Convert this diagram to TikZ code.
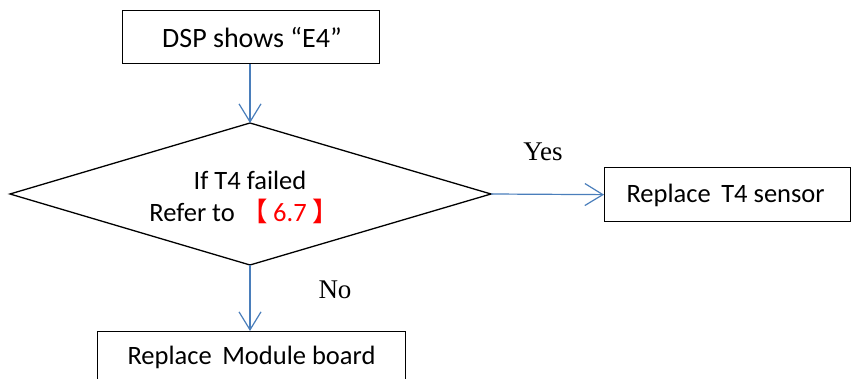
\documentclass[tikz,border=0pt]{standalone}
\usepackage{fontspec}
\setmainfont{Carlito}
\newfontfamily\serifface{Liberation Serif}
\newfontfamily\cjk{Noto Sans CJK SC}
\usetikzlibrary{arrows.meta}
\definecolor{arrowblue}{RGB}{74,126,187}
\tikzset{
  x=1pt, y=-1pt,
  boxstyle/.style={draw=black, line width=1.3pt, fill=white, inner sep=0pt},
  flow/.style={draw=arrowblue, line width=1.2pt, -{Straight Barb[length=18pt,width=22pt,line width=1.2pt]}},
  txt/.style={font=\fontsize{26.5}{32}\selectfont},
  bigtxt/.style={font=\fontsize{28}{32}\selectfont},
  lbl/.style={font=\serifface\fontsize{27}{30}\selectfont},
}
\begin{document}
\begin{tikzpicture}
\useasboundingbox (0,0) rectangle (852,379);
\begin{scope}
\clip (0,0) rectangle (852,379);
\node[boxstyle, minimum width=257pt, minimum height=53pt, anchor=north west] (start) at (122,10) {};
\node[bigtxt] (starttxt) at (252,38) {DSP shows “E4”};
\coordinate (dt) at (250,123);
\coordinate (dr) at (491,194);
\coordinate (db) at (250,265);
\coordinate (dl) at (10,194);
\draw[black, line width=1.3pt, line join=miter] (dt) -- (dr) -- (db) -- (dl) -- cycle;
\node[txt, align=center] (cond) at (250,197) {If T4 failed\\Refer to\hspace{0.25em}{\color{red}{\cjk 【}\hspace{0.2em}6.7\hspace{0.2em}{\cjk 】}}\hspace*{0.45em}\mbox{}};
\node[boxstyle, minimum width=246pt, minimum height=54pt, anchor=north west] (yesbox) at (604,167) {};
\node[txt, anchor=west] (yestxt) at (623,195) {Replace\hspace{0.4em}T4 sensor};
\node[boxstyle, minimum width=308pt, minimum height=70pt, anchor=north west] (nobox) at (97,331) {};
\node[txt, anchor=west] (notxt) at (124,357) {Replace\hspace{0.4em}Module board};
\draw[flow] (start.south -| dt) -- (dt);
\draw[flow] (dr) -- (yesbox.west);
\draw[flow] (db) -- (db |- nobox.north);
\node[lbl] (yes) at (543,152) {Yes};
\node[lbl] (no) at (335,290) {No};
\end{scope}
\end{tikzpicture}
\end{document}
